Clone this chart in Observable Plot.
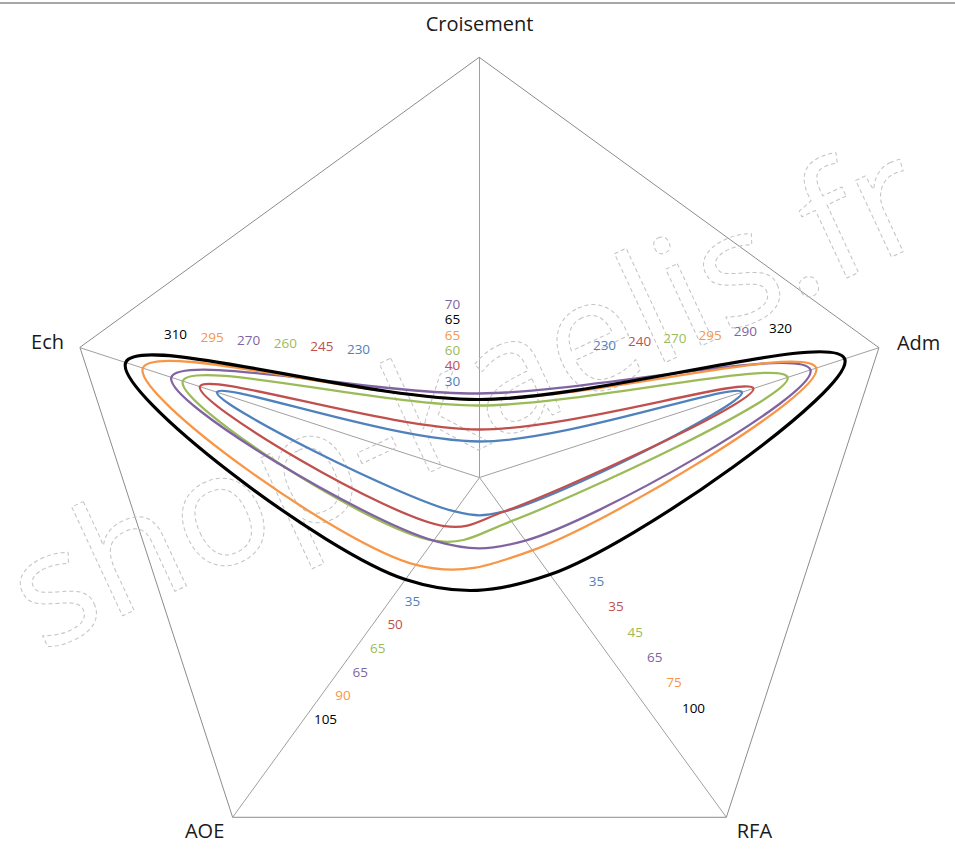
<!DOCTYPE html>
<html>
<head>
<meta charset="utf-8">
<script src="https://cdn.jsdelivr.net/npm/d3@7"></script>
<script src="https://cdn.jsdelivr.net/npm/@observablehq/plot@0.6"></script>
<style>
  html, body { margin: 0; padding: 0; background: #fff; }
  #wrap { position: relative; width: 955px; height: 851px; }
  #topline { position: absolute; left: 0; top: 2px; width: 955px; height: 0; border-top: 2px solid #a6a6a6; }
</style>
</head>
<body>
<div id="wrap"><div id="topline"></div></div>
<script>
// ---- data ----
const axes = ["Croisement", "Adm", "RFA", "AOE", "Ech"];
const seriesNames = ["S1", "S2", "S3", "S4", "S5", "S6"];
const seriesColors = ["#4F81BD", "#C0504D", "#9BBB59", "#8064A2", "#F79646", "#000000"];
const croisement = [30, 40, 60, 70, 65, 65];
const adm        = [230, 240, 270, 290, 295, 320];
const rfa        = [35, 35, 45, 65, 75, 100];
const aoe        = [35, 50, 65, 65, 90, 105];
const ech        = [230, 245, 260, 270, 295, 310];
const maxValue = 350;

// ---- layout (styling) ----
const W = 955, H = 851;
const cx = 479, cy = 477, R = 420;          // pixel center and radius of the radar
const k = R / maxValue;                     // pixels per unit
const angleOf = i => (90 - 72 * i) * Math.PI / 180;
const polar = (i, v) => [v * Math.cos(angleOf(i)), v * Math.sin(angleOf(i))];

const valuesByAxis = [croisement, adm, rfa, aoe, ech];

const lineData = [];
seriesNames.forEach((s, si) => {
  axes.forEach((a, ai) => {
    const [x, y] = polar(ai, valuesByAxis[ai][si]);
    lineData.push({series: s, axis: a, x, y, v: valuesByAxis[ai][si]});
  });
});

const outer = axes.map((a, i) => { const [x, y] = polar(i, maxValue); return {axis: a, x, y}; });

// data label placement: slot per series on each axis (pixel layout -> units)
const labelLayout = {
  Croisement: {slots: [0, 1, 2, 5, 3, 4], x0: 452, y0: 381, dx: 0,     dy: -15.4},
  Adm:        {slots: [0, 1, 2, 4, 3, 5], x0: 604, y0: 345, dx: 35.2,  dy: -3.4},
  RFA:        {slots: [0, 1, 2, 3, 4, 5], x0: 596, y0: 581, dx: 19.4,  dy: 25.4},
  AOE:        {slots: [0, 1, 2, 3, 4, 5], x0: 412, y0: 601, dx: -17.4, dy: 23.6},
  Ech:        {slots: [0, 1, 2, 3, 4, 5], x0: 358, y0: 349, dx: -36.6, dy: -3}
};
const labelData = [];
axes.forEach((a, ai) => {
  const L = labelLayout[a];
  seriesNames.forEach((s, si) => {
    const slot = L.slots[si];
    const px = L.x0 + L.dx * slot, py = L.y0 + L.dy * slot;
    labelData.push({series: s, text: String(valuesByAxis[ai][si]), x: (px - cx) / k, y: (cy - py) / k});
  });
});

const axisLabelOffsets = {
  Croisement: {dx: 0, dy: -33, anchor: "middle"},
  Adm: {dx: 18, dy: -4, anchor: "start"},
  RFA: {dx: 28, dy: 14, anchor: "middle"},
  AOE: {dx: -28, dy: 14, anchor: "middle"},
  Ech: {dx: -16, dy: -5, anchor: "end"}
};

const xDomain = [-cx / k, (W - cx) / k];
const yDomain = [-(H - cy) / k, cy / k];

const smooth = d3.curveCatmullRomClosed.alpha(0.5);

const chart = Plot.plot({
  width: W, height: H,
  margin: 0,
  x: {domain: xDomain, range: [0, W], axis: null},
  y: {domain: yDomain, range: [H, 0], axis: null},
  color: {domain: seriesNames, range: seriesColors},
  style: {fontFamily: "'Open Sans', sans-serif", background: "transparent"},
  marks: [
    Plot.link(outer, {x1: 0, y1: 0, x2: "x", y2: "y", stroke: "#a0a0a0", strokeWidth: 1}),
    Plot.line(outer, {x: "x", y: "y", curve: "linear-closed", stroke: "#8c8c8c", strokeWidth: 1}),
    // watermark
    Plot.text(["shop-kaelis.fr"], {
      x: (468 - cx) / k, y: (cy - 398) / k, text: d => d,
      fontSize: 158, rotate: -25, fill: "none", stroke: "#c4c4c4",
      strokeWidth: 1, strokeDasharray: "4,3", fontFamily: "'Open Sans', sans-serif"
    }),
    Plot.line(lineData.filter(d => d.series !== "S6"), {
      x: "x", y: "y", z: "series", stroke: "series", curve: smooth, strokeWidth: 2.3
    }),
    Plot.line(lineData.filter(d => d.series === "S6"), {
      x: "x", y: "y", z: "series", stroke: "series", curve: smooth, strokeWidth: 3.2
    }),
    Plot.text(labelData, {x: "x", y: "y", text: "text", fill: "series", fontSize: 13.5}),
    ...outer.map(o => Plot.text([o], {
      x: "x", y: "y", text: "axis", fontSize: 20, fill: "#1a1a1a",
      dx: axisLabelOffsets[o.axis].dx, dy: axisLabelOffsets[o.axis].dy,
      textAnchor: axisLabelOffsets[o.axis].anchor
    }))
  ]
});
document.getElementById("wrap").prepend(chart);
</script>
</body>
</html>
